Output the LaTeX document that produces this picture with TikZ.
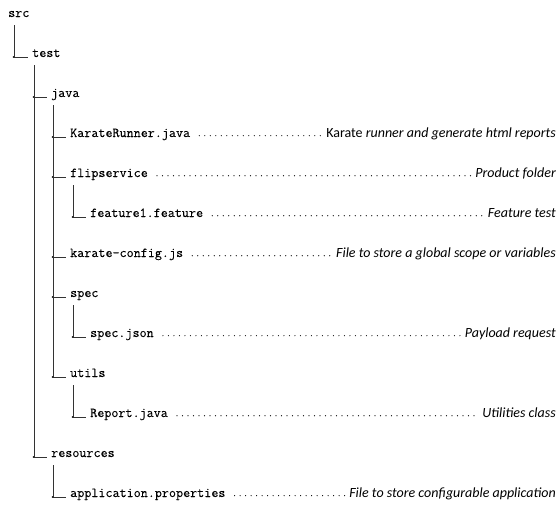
\documentclass[tikz,border=0pt]{standalone}
\usepackage{fontspec}
\newfontfamily\notefont{Carlito}
\newfontfamily\codefont{Latin Modern Mono}[FakeBold=0.08]
\usepackage{tikz}
\usetikzlibrary{calc}

\tikzset{
  file/.style={anchor=base west, inner sep=0pt, font=\codefont\fontsize{13.7}{16}\selectfont},
  note/.style={anchor=base east, inner sep=0pt, font=\notefont\itshape\fontsize{14}{16}\selectfont},
  twig/.style={line width=.6pt, draw=black!80, to path={|- (\tikztotarget) node[pos=.5, knot]{}}},
  knot/.style={circle, fill=black, inner sep=0pt, minimum size=1.8pt, xshift=-.5pt},
  leader/.style={line width=1.2pt, line cap=round, dash pattern=on 0pt off 5.5pt},
}

\begin{document}
\begin{tikzpicture}[x=1pt, y=-1pt]
\useasboundingbox (0,0) rectangle (559,504);
  \node[file] (src)    at (8,17)   {src};
  \node[file] (test)   at (32,57)  {test};
  \node[file] (java)   at (51,97)  {java};
  \node[file] (runner) at (70,137) {KarateRunner.java};
  \node[file] (flip)   at (70,177) {flipservice};
  \node[file] (feat)   at (90,217) {feature1.feature};
  \node[file] (conf)   at (70,257) {karate-config.js};
  \node[file] (spec)   at (70,297) {spec};
  \node[file] (json)   at (90,337) {spec.json};
  \node[file] (utils)  at (70,377) {utils};
  \node[file] (report) at (90,417) {Report.java};
  \node[file] (res)    at (51,457) {resources};
  \node[file] (app)    at (70,497) {application.properties};

  \node[note] (runner-n) at (556,137) {{\upshape Karate} runner and generate html reports};
  \node[note] (flip-n)   at (556,177) {Product folder};
  \node[note] (feat-n)   at (556,217) {Feature test};
  \node[note] (conf-n)   at (556,257) {File to store a global scope or variables};
  \node[note] (json-n)   at (556,337) {Payload request};
  \node[note] (report-n) at (556,417) {Utilities class};
  \node[note] (app-n)    at (556,497) {File to store configurable application};

%  \path[twig, -stealth]
\path[twig]
  ([xshift=6pt,yshift=-8pt]src.base west) edge ([xshift=-4pt]test.base west)
  ([xshift=2pt,yshift=-8pt]test.base west) edge ([xshift=-4pt]java.base west)
      edge ([xshift=-4pt]res.base west)
  ([xshift=2pt,yshift=-8pt]java.base west) edge ([xshift=-4pt]runner.base west)
      edge ([xshift=-4pt]flip.base west)
      edge ([xshift=-4pt]conf.base west)
      edge ([xshift=-4pt]spec.base west)
      edge ([xshift=-4pt]utils.base west)
  ([xshift=3pt,yshift=-8pt]flip.base west) edge ([xshift=-4pt]feat.base west)
  ([xshift=3pt,yshift=-8pt]spec.base west) edge ([xshift=-4pt]json.base west)
  ([xshift=3pt,yshift=-8pt]utils.base west) edge ([xshift=-4pt]report.base west)
  ([xshift=2pt,yshift=-8pt]res.base west) edge ([xshift=-4pt]app.base west);

\path[leader]
  ([xshift=9pt,yshift=1.3pt]runner.base east) edge ([xshift=-3pt,yshift=1.3pt]runner-n.base west)
  ([xshift=9pt,yshift=1.3pt]flip.base east) edge ([xshift=-3pt,yshift=1.3pt]flip-n.base west)
  ([xshift=9pt,yshift=1.3pt]feat.base east) edge ([xshift=-3pt,yshift=1.3pt]feat-n.base west)
  ([xshift=9pt,yshift=1.3pt]conf.base east) edge ([xshift=-3pt,yshift=1.3pt]conf-n.base west)
  ([xshift=9pt,yshift=1.3pt]json.base east) edge ([xshift=-3pt,yshift=1.3pt]json-n.base west)
  ([xshift=9pt,yshift=1.3pt]report.base east) edge ([xshift=-3pt,yshift=1.3pt]report-n.base west)
  ([xshift=9pt,yshift=1.3pt]app.base east) edge ([xshift=-3pt,yshift=1.3pt]app-n.base west);
\end{tikzpicture}
\end{document}
